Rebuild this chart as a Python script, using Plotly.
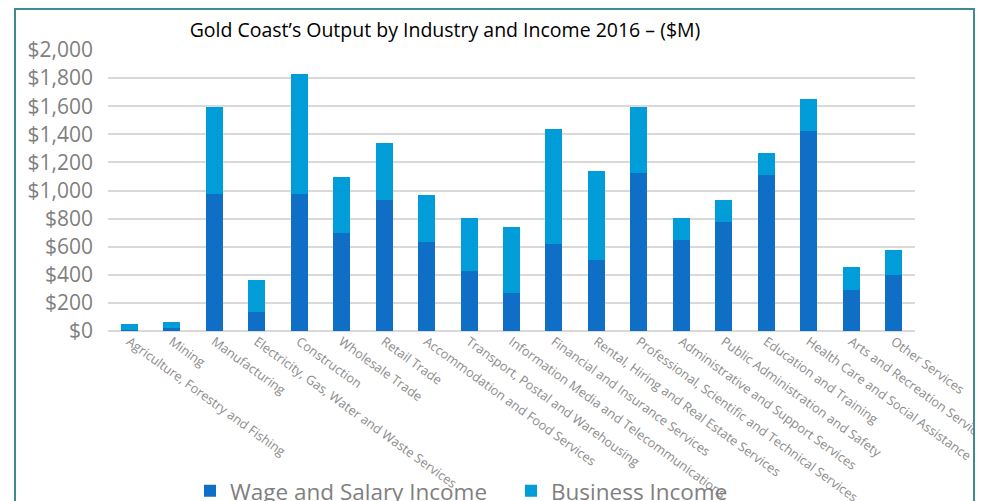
import plotly.graph_objects as go

industries = [
    "Agriculture, Forestry and Fishing", "Mining", "Manufacturing",
    "Electricity, Gas, Water and Waste Services", "Construction",
    "Wholesale Trade", "Retail Trade", "Accommodation and Food Services",
    "Transport, Postal and Warehousing", "Information Media and Telecommunications",
    "Financial and Insurance Services", "Rental, Hiring and Real Estate Services",
    "Professional, Scientific and Technical Services",
    "Administrative and Support Services", "Public Administration and Safety",
    "Education and Training", "Health Care and Social Assistance",
    "Arts and Recreation Services", "Other Services",
]
wage_income = [4, 18, 974, 132, 974, 701, 929, 637, 430, 267,
               616, 502, 1127, 651, 779, 1107, 1422, 295, 402]
total_output = [48, 62, 1591, 366, 1826, 1093, 1341, 971, 807, 742,
                1441, 1142, 1591, 801, 929, 1270, 1648, 452, 573]
business_income = [t - w for t, w in zip(total_output, wage_income)]

y_ticks = list(range(0, 2001, 200))
y_tick_text = ["$" + format(v, ",") for v in y_ticks]

FONT = "Open Sans, Lato, sans-serif"

fig = go.Figure()
fig.add_trace(go.Bar(x=industries, y=wage_income, name="Wage and Salary Income",
                     marker=dict(color="#0f6fc6", line=dict(width=0))))
fig.add_trace(go.Bar(x=industries, y=business_income, name="Business Income",
                     marker=dict(color="#009dd9", line=dict(width=0))))

# the page body has an 8px margin, so the figure sits at (8, 8) in the window
OFF = 8
W, H = 983 - OFF, 501 - OFF
# plot area in window pixels: x 108..915, y 50..331.5
pw, ph = 807, 281.5
L, T = 108 - OFF, 50 - OFF
R = W - L - pw
B = H - T - ph


def px_x(v):
    return (v - OFF - L) / pw


def px_y(v):
    return (H - B - (v - OFF)) / ph


fig.update_layout(
    width=W, height=H,
    barmode="stack", bargap=0.6,
    paper_bgcolor="white", plot_bgcolor="white",
    margin=dict(l=L, r=R, t=T, b=B, autoexpand=False),
    font=dict(family=FONT, color="#7f7f7f"),
    title=dict(text="Gold Coast’s Output by Industry and Income 2016 – ($M)",
               x=px_x(445), xref="paper", xanchor="center",
               y=1 - (30 - OFF) / H, yanchor="middle",
               font=dict(family=FONT, size=19.5, color="#000000")),
    showlegend=True,
    legend=dict(orientation="h", x=px_x(190), xanchor="left",
                y=px_y(492), yanchor="middle", traceorder="normal",
                bgcolor="rgba(0,0,0,0)",
                font=dict(size=22.5, color="#7f7f7f"),
                itemwidth=30, entrywidth=276),
    shapes=[
        dict(type="rect", xref="paper", yref="paper",
             x0=px_x(973), x1=px_x(1000), y0=px_y(520), y1=px_y(0),
             fillcolor="white", line=dict(width=0), layer="above"),
        dict(type="rect", xref="paper", yref="paper",
             x0=px_x(15), x1=px_x(974), y0=px_y(520), y1=px_y(9),
             line=dict(color="#3f8b92", width=2), fillcolor="rgba(0,0,0,0)",
             layer="above"),
    ],
)

fig.update_xaxes(tickangle=36, tickfont=dict(size=12.8, color="#8c8c8c"),
                 showgrid=False, showline=False, ticks="")
fig.update_yaxes(range=[0, 2000], tickvals=y_ticks, ticktext=y_tick_text,
                 tickfont=dict(size=21, color="#7f7f7f"),
                 showgrid=True, gridcolor="#d9d9d9", gridwidth=1.5,
                 zeroline=True, zerolinecolor="#d9d9d9", zerolinewidth=1.5,
                 ticklabelstandoff=14, ticks="")

fig.write_html("out.html")
